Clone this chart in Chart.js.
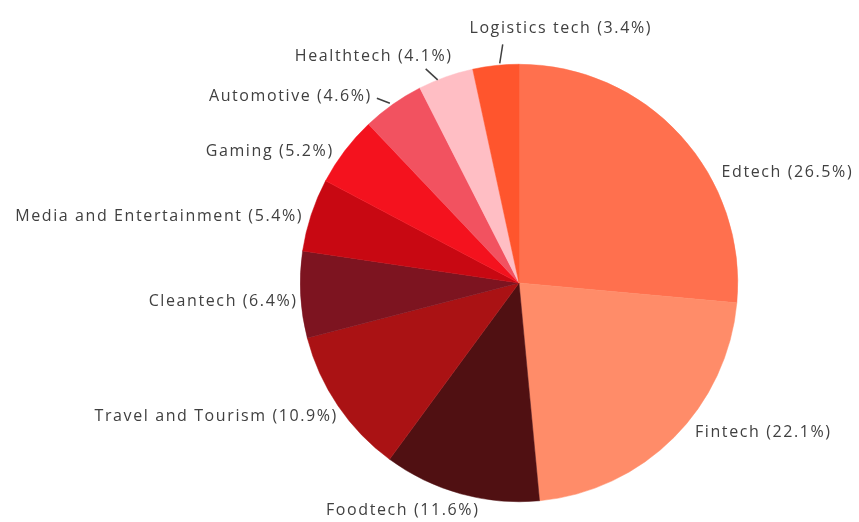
<!DOCTYPE html>
<html>
<head>
<meta charset="utf-8">
<script src="https://cdn.jsdelivr.net/npm/chart.js@4"></script>
<style>
  html, body { margin: 0; padding: 0; background: #ffffff; }
  #wrap { width: 859px; height: 522px; }
</style>
</head>
<body>
<div id="wrap"><canvas id="c" width="859" height="522"></canvas></div>
<script>
// ---- data ----
const categories = ["Edtech", "Fintech", "Foodtech", "Travel and Tourism", "Cleantech",
  "Media and Entertainment", "Gaming", "Automotive", "Healthtech", "Logistics tech"];
const shares = [26.5, 22.1, 11.6, 10.9, 6.4, 5.4, 5.2, 4.6, 4.1, 3.4];

// ---- styles ----
const colors = ["#FF704E", "#FF8C69", "#501012", "#AA1214", "#7D1420",
  "#C80812", "#F4121E", "#F25260", "#FFBEC4", "#FF552D"];
// label nudges relative to the rim point at each slice's mid-angle: [dx, dy, align]
const labelNudge = [
  [41, 37, "left"], [21, -5, "left"], [-58, 17, "center"], [0, 11, "right"],
  [-3, 7, "right"], [-8, 2, "right"], [-11, 1, "right"], [-21, -8, "right"],
  [7, -20, "right"], [65, -37, "center"]
];
// leader lines relative to rim point: [x1, y1, x2, y2] or null
const leaders = [null, null, null, null, null, null, null,
  [-3, -1, -16, -6], [-8, 3, -20, -8], [4, -2, 7, -21]];

const labelPlugin = {
  id: "outsideLabels",
  afterDatasetsDraw(chart) {
    const ctx = chart.ctx;
    const meta = chart.getDatasetMeta(0);
    ctx.save();
    ctx.font = "400 16px 'Open Sans', sans-serif";
    if ('letterSpacing' in ctx) ctx.letterSpacing = "1.6px";
    ctx.fillStyle = "#404040";
    ctx.strokeStyle = "#404040";
    ctx.lineWidth = 1.5;
    ctx.textBaseline = "middle";
    meta.data.forEach((arc, i) => {
      const p = arc.getProps(["x", "y", "startAngle", "endAngle", "outerRadius"], true);
      const mid = (p.startAngle + p.endAngle) / 2;
      const rx = p.x + Math.cos(mid) * p.outerRadius;
      const ry = p.y + Math.sin(mid) * p.outerRadius;
      const lead = leaders[i];
      if (lead) {
        ctx.beginPath();
        ctx.moveTo(rx + lead[0], ry + lead[1]);
        ctx.lineTo(rx + lead[2], ry + lead[3]);
        ctx.stroke();
      }
      const n = labelNudge[i];
      ctx.textAlign = n[2];
      ctx.fillText(categories[i] + " (" + shares[i] + "%)", rx + n[0], ry + n[1]);
    });
    ctx.restore();
  }
};

new Chart(document.getElementById("c"), {
  type: "pie",
  data: {
    labels: categories,
    datasets: [{
      data: shares,
      backgroundColor: colors,
      borderColor: colors,
      borderWidth: 0.5
    }]
  },
  options: {
    responsive: false,
    animation: false,
    layout: { padding: { left: 300, right: 121, top: 64, bottom: 20 } },
    plugins: { legend: { display: false }, tooltip: { enabled: false } }
  },
  plugins: [labelPlugin]
});
</script>
</body>
</html>
